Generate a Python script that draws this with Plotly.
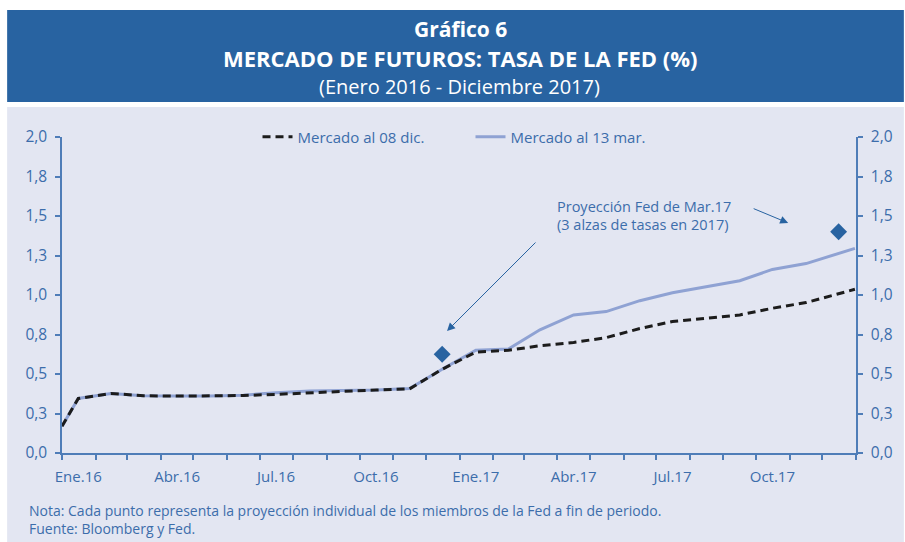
import plotly.graph_objects as go

# ---------------- data ----------------
fechas = ["2016-01-01", "2016-01-16", "2016-02-15", "2016-03-16", "2016-04-16", "2016-05-16",
          "2016-06-16", "2016-07-16", "2016-08-16", "2016-09-16", "2016-10-16", "2016-11-16",
          "2016-12-16", "2017-01-16", "2017-02-15", "2017-03-16", "2017-04-16", "2017-05-16",
          "2017-06-16", "2017-07-16", "2017-08-16", "2017-09-16", "2017-10-16", "2017-11-16",
          "2017-12-31"]
mercado_08dic = [0.17, 0.345, 0.377, 0.362, 0.360, 0.360, 0.364, 0.371, 0.382, 0.390, 0.398, 0.406,
                 0.53, 0.639, 0.650, 0.679, 0.700, 0.730, 0.788, 0.832, 0.853, 0.874, 0.916, 0.952,
                 1.036]
mercado_13mar = [0.17, 0.345, 0.377, 0.362, 0.360, 0.360, 0.366, 0.382, 0.392, 0.396, 0.399, 0.408,
                 0.53, 0.650, 0.658, 0.780, 0.874, 0.895, 0.964, 1.014, 1.052, 1.090, 1.162, 1.199,
                 1.295]
fed_fechas = ["2016-12-16", "2017-12-16"]
fed_proy = [0.625, 1.40]

y_tickvals = [0, 0.25, 0.5, 0.75, 1.0, 1.25, 1.5, 1.75, 2.0]
y_ticktext = ["0,0", "0,3", "0,5", "0,8", "1,0", "1,3", "1,5", "1,8", "2,0"]
x_labelvals = ["2016-01-16", "2016-04-16", "2016-07-16", "2016-10-16",
               "2017-01-16", "2017-04-16", "2017-07-16", "2017-10-16"]
x_labeltext = ["Ene.16", "Abr.16", "Jul.16", "Oct.16", "Ene.17", "Abr.17", "Jul.17", "Oct.17"]

# ---------------- layout helpers ----------------
W, H = 905, 542
ML, MR, MT, MB = 62, 47, 137, 89
PW, PH = W - ML - MR, H - MT - MB


def px(xp):
    return (xp - ML) / PW


def py(yp):
    return (H - MB - yp) / PH


BLUE = "#2863a1"
TXT = "#3c6dab"
AXIS = "#4f7db8"
PANEL = "#e3e6f2"
FONT = "Open Sans"

fig = go.Figure()
fig.add_trace(go.Scatter(x=fechas, y=mercado_13mar, mode="lines", name="Mercado al 13 mar.",
                         line=dict(color="#8fa2d3", width=3)))
fig.add_trace(go.Scatter(x=fechas, y=mercado_08dic, mode="lines", name="Mercado al 08 dic.",
                         line=dict(color="#1c1c1c", width=3, dash="8px,5px")))
fig.add_trace(go.Scatter(x=fed_fechas, y=fed_proy, mode="markers", showlegend=False,
                         marker=dict(symbol="diamond", size=13, color=BLUE), yaxis="y2"))

shapes = [
    dict(type="rect", xref="paper", yref="paper", x0=px(7), x1=px(906), y0=py(107), y1=py(543),
         fillcolor=PANEL, line=dict(width=0), layer="below"),
    dict(type="rect", xref="paper", yref="paper", x0=px(7), x1=px(906), y0=py(102), y1=py(10),
         fillcolor=BLUE, line=dict(width=0), layer="below"),
]


def note(text, xp, yp, size, color=TXT, bold=False, anchor="left"):
    return dict(text=f"<b>{text}</b>" if bold else text, x=px(xp), y=py(yp), xref="paper", yref="paper",
                showarrow=False, font=dict(family=FONT, size=size, color=color),
                xanchor=anchor, yanchor="middle", align="left")


annotations = [
    note("Gráfico 6", 462, 29, 21, "white", True, "center"),
    note("MERCADO DE FUTUROS: TASA DE LA FED (%)", 462, 58, 22, "white", True, "center"),
    note("(Enero 2016 - Diciembre 2017)", 461, 86, 20, "white", False, "center"),
    note("Proyección Fed de Mar.17", 556, 206, 14.5),
    note("(3 alzas de tasas en 2017)", 556, 224, 14.5),
    dict(text="", x=px(448), y=py(331), xref="paper", yref="paper", showarrow=True,
         ax=90, ay=-90, arrowhead=2, arrowsize=1.6, arrowwidth=1, arrowcolor=BLUE),
    dict(text="", x=px(790), y=py(223), xref="paper", yref="paper", showarrow=True,
         ax=-36, ay=-15, arrowhead=2, arrowsize=1.6, arrowwidth=1, arrowcolor=BLUE),
    note("Nota: Cada punto representa la proyección individual de los miembros de la Fed a fin de periodo."
         "<br>Fuente: Bloomberg y Fed.", 27, 519.5, 14),
]

yax = dict(range=[0, 2.0], tickvals=y_tickvals, ticktext=y_ticktext, showgrid=False, zeroline=False,
           showline=True, linecolor=AXIS, linewidth=1.5, ticks="outside", ticklen=5, tickcolor=AXIS,
           tickwidth=1.5, tickfont=dict(family=FONT, size=15.5, color=TXT), fixedrange=True,
           ticklabelstandoff=5)

fig.update_layout(
    width=W, height=H,
    margin=dict(l=ML, r=MR, t=MT, b=MB),
    paper_bgcolor="white", plot_bgcolor="rgba(0,0,0,0)",
    font=dict(family=FONT, color=TXT),
    shapes=shapes, annotations=annotations,
    showlegend=True,
    legend=dict(orientation="h", x=px(258), y=py(137), xanchor="left", yanchor="middle",
                bgcolor="rgba(0,0,0,0)", font=dict(family=FONT, size=15, color=TXT),
                traceorder="reversed", entrywidth=168, entrywidthmode="pixels"),
    xaxis=dict(type="date", range=["2016-01-01", "2018-01-01"], tickvals=x_labelvals, ticktext=x_labeltext,
               ticks="", showgrid=False, zeroline=False, showline=True, linecolor=AXIS, linewidth=1.5,
               tickfont=dict(family=FONT, size=15, color=TXT), ticklabelstandoff=9,
               minor=dict(ticks="outside", dtick="M1", tick0="2016-01-01", ticklen=5,
                          tickcolor=AXIS, tickwidth=1.5, showgrid=False)),
    yaxis=yax,
    yaxis2=dict(yax, overlaying="y", side="right", anchor="x"),
)

fig.write_html("out.html", config={"displayModeBar": False},
               post_script="document.body.style.margin='0';document.body.style.overflow='hidden';")
